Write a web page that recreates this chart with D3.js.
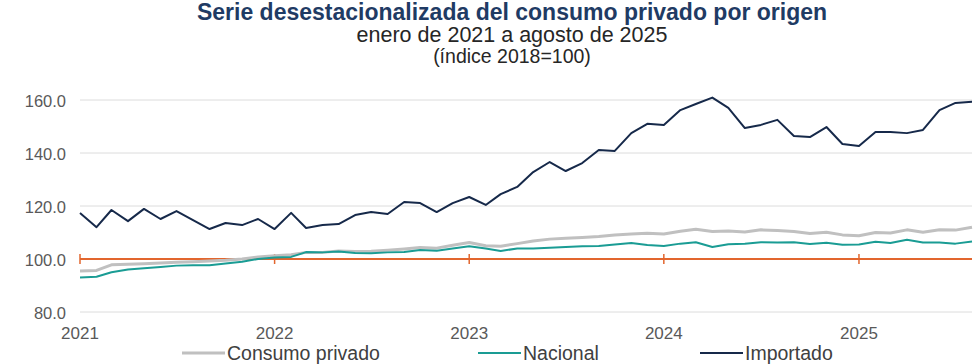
<html>
<head>
<meta charset="utf-8">
<script src="https://cdn.jsdelivr.net/npm/d3@7/dist/d3.min.js"></script>
<style>
	body { margin:0; background:#fff; }
	text { font-family: "Liberation Sans", Arial, sans-serif; }
</style>
</head>
<body>
<svg id="chart"></svg>
<script>
	// monthly values, jan 2021 .. aug 2025
	var consumo = [95.5, 95.7, 97.8, 98.0, 98.2, 98.5, 98.8, 99.0, 99.2, 99.5, 100.0, 100.8,
		101.2, 101.6, 102.5, 102.5, 103.0, 102.8, 102.9, 103.3, 103.8, 104.3, 104.1, 105.2,
		106.2, 105.0, 104.8, 105.8, 106.8, 107.5, 107.8, 108.1, 108.5, 109.1, 109.4, 109.7,
		109.4, 110.5, 111.2, 110.4, 110.6, 110.2, 111.0, 110.8, 110.4, 109.6, 110.1, 109.1,
		108.8, 110.0, 109.8, 111.0, 110.1, 111.0, 110.9, 112.0];
	var nacional = [93.0, 93.3, 95.0, 96.0, 96.5, 97.0, 97.5, 97.6, 97.6, 98.3, 99.0, 100.0,
		100.6, 100.8, 102.6, 102.5, 102.8, 102.3, 102.2, 102.5, 102.6, 103.4, 103.1, 104.0,
		104.8, 104.0, 103.0, 104.0, 104.0, 104.2, 104.5, 104.8, 104.9, 105.5, 106.0, 105.3,
		104.9, 105.8, 106.3, 104.5, 105.6, 105.8, 106.3, 106.2, 106.3, 105.7, 106.1, 105.4,
		105.5, 106.5, 106.0, 107.3, 106.2, 106.2, 105.8, 106.6];
	var importado = [117.4, 112.0, 118.5, 114.3, 118.9, 115.1, 118.1, 114.7, 111.3, 113.6, 112.8, 115.1,
		111.3, 117.4, 111.7, 112.8, 113.2, 116.6, 117.7, 117.0, 121.5, 121.1, 117.7, 121.1,
		123.4, 120.4, 124.5, 127.2, 132.8, 136.6, 133.2, 136.2, 141.1, 140.8, 147.5, 151.0,
		150.6, 156.2, 158.5, 160.9, 157.0, 149.4, 150.6, 152.5, 146.4, 146.0, 149.8, 143.4,
		142.6, 147.9, 147.9, 147.5, 148.7, 156.2, 158.9, 159.3];
	var yTicks = [80, 100, 120, 140, 160];
	var years = [2021, 2022, 2023, 2024, 2025];

	var series = [
		{name:"Consumo privado", values:consumo, color:"#c0c0c0", width:3},
		{name:"Nacional", values:nacional, color:"#1a9c94", width:2},
		{name:"Importado", values:importado, color:"#16294a", width:2}
	];

	var months = d3.timeMonth.range(new Date(2021, 0, 1), new Date(2025, 8, 1));

	var W = 980, H = 364;
	var svg = d3.select("#chart").attr("width", W).attr("height", H);

	var x = d3.scaleTime().domain([months[0], months[months.length-1]]).range([80, 972]);
	var y = d3.scaleLinear().domain([80, 160]).range([312, 100]);

	// titles
	svg.append("text").attr("x", 512).attr("y", 20).attr("text-anchor", "middle")
		.attr("font-size", 23).attr("font-weight", "bold").attr("fill", "#1f3b64")
		.text("Serie desestacionalizada del consumo privado por origen");
	svg.append("text").attr("x", 512).attr("y", 42).attr("text-anchor", "middle")
		.attr("font-size", 21.5).attr("fill", "#262626")
		.text("enero de 2021 a agosto de 2025");
	svg.append("text").attr("x", 512).attr("y", 63).attr("text-anchor", "middle")
		.attr("font-size", 19.5).attr("fill", "#262626")
		.text("(índice 2018=100)");

	// grid
	svg.append("g").selectAll("line").data(yTicks.filter(function(d){ return d != 100; }))
		.enter().append("line")
		.attr("x1", 80).attr("x2", 972)
		.attr("y1", function(d){ return y(d); }).attr("y2", function(d){ return y(d); })
		.attr("stroke", "#dcdcdc").attr("stroke-width", 1);

	svg.append("g").selectAll("text").data(yTicks).enter().append("text")
		.attr("x", 66).attr("y", function(d){ return y(d) + 6.5; })
		.attr("text-anchor", "end").attr("font-size", 16.5).attr("fill", "#595959")
		.text(function(d){ return d3.format(".1f")(d); });

	svg.append("g").selectAll("text").data(years).enter().append("text")
		.attr("x", function(d){ return x(new Date(d, 0, 1)); }).attr("y", 339)
		.attr("text-anchor", "middle").attr("font-size", 17).attr("fill", "#595959")
		.text(function(d){ return d; });

	// orange base line at 100 with year ticks
	svg.append("line").attr("x1", 80).attr("x2", 972).attr("y1", y(100)).attr("y2", y(100))
		.attr("stroke", "#e2662e").attr("stroke-width", 2);
	svg.append("g").selectAll("line").data(years).enter().append("line")
		.attr("x1", function(d){ return x(new Date(d, 0, 1)); })
		.attr("x2", function(d){ return x(new Date(d, 0, 1)); })
		.attr("y1", y(100) - 5).attr("y2", y(100) + 5)
		.attr("stroke", "#e2662e").attr("stroke-width", 1.5);

	var line = d3.line()
		.x(function(d, i){ return x(months[i]); })
		.y(function(d){ return y(d); });

	svg.append("g").selectAll("path").data(series).enter().append("path")
		.attr("d", function(s){ return line(s.values); })
		.attr("fill", "none")
		.attr("stroke", function(s){ return s.color; })
		.attr("stroke-width", function(s){ return s.width; })
		.attr("stroke-linejoin", "round");

	// legend
	var legendX = [182, 478, 700];
	var lg = svg.append("g").selectAll("g").data(series).enter().append("g")
		.attr("transform", function(s, i){ return "translate(" + legendX[i] + ",353)"; });
	lg.append("line").attr("x1", 0).attr("x2", 43).attr("y1", 0).attr("y2", 0)
		.attr("stroke", function(s){ return s.color; })
		.attr("stroke-width", function(s){ return s.width; });
	lg.append("text").attr("x", 45).attr("y", 6.5).attr("font-size", 19.5).attr("fill", "#404040")
		.text(function(s){ return s.name; });
</script>
</body>
</html>
